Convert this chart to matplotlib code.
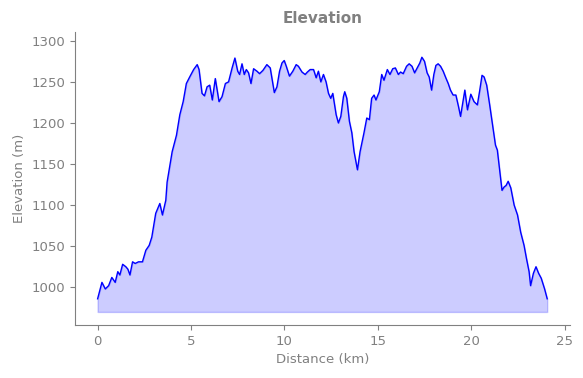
import numpy as np
import matplotlib
matplotlib.use('Agg')
import matplotlib.pyplot as plt

# distance (km) and elevation (m)
distance = [0.00, 0.23, 0.41, 0.59, 0.76, 0.94, 1.08, 1.19, 1.34, 1.51, 1.62, 1.73,
            1.87, 2.01, 2.19, 2.40, 2.58, 2.76, 2.90, 3.11, 3.33, 3.47, 3.65, 3.72,
            3.99, 4.22, 4.40, 4.58, 4.75, 4.93, 5.14, 5.33, 5.43, 5.59, 5.72, 5.86,
            6.00, 6.14, 6.30, 6.50, 6.66, 6.84, 7.01, 7.20, 7.35, 7.50, 7.60, 7.73,
            7.85, 7.96, 8.08, 8.21, 8.35, 8.53, 8.67, 8.85, 9.06, 9.24, 9.33, 9.46,
            9.60, 9.74, 9.87, 9.99, 10.10, 10.27, 10.45, 10.63, 10.75, 10.94, 11.11,
            11.23, 11.38, 11.56, 11.70, 11.82, 11.95, 12.09, 12.23, 12.36, 12.48,
            12.59, 12.77, 12.89, 13.02, 13.16, 13.23, 13.34, 13.48, 13.61, 13.73,
            13.91, 14.05, 14.26, 14.41, 14.55, 14.67, 14.80, 14.90, 15.08, 15.21,
            15.33, 15.51, 15.65, 15.80, 15.94, 16.10, 16.22, 16.36, 16.54, 16.68,
            16.83, 16.97, 17.11, 17.25, 17.36, 17.50, 17.64, 17.75, 17.88, 18.00,
            18.11, 18.23, 18.36, 18.50, 18.64, 18.77, 18.89, 19.03, 19.18, 19.32,
            19.43, 19.57, 19.66, 19.80, 19.98, 20.15, 20.33, 20.46, 20.58, 20.69,
            20.83, 20.99, 21.17, 21.30, 21.40, 21.51, 21.65, 21.76, 21.87, 21.98,
            22.12, 22.30, 22.48, 22.65, 22.83, 22.96, 23.10, 23.18, 23.33, 23.47,
            23.61, 23.75, 23.93, 24.07]
elevation = [986, 1006, 998, 1002, 1012, 1006, 1019, 1015, 1028, 1025, 1022, 1015,
             1031, 1029, 1031, 1031, 1045, 1051, 1061, 1090, 1102, 1088, 1106, 1128,
             1165, 1185, 1210, 1226, 1248, 1256, 1265, 1271, 1265, 1236, 1233, 1244,
             1246, 1228, 1254, 1226, 1232, 1248, 1250, 1267, 1279, 1263, 1259, 1272,
             1259, 1265, 1261, 1248, 1266, 1263, 1260, 1264, 1271, 1267, 1255, 1237,
             1244, 1263, 1273, 1276, 1269, 1257, 1263, 1271, 1269, 1262, 1259,
             1262, 1265, 1265, 1255, 1263, 1250, 1259, 1250, 1236, 1230,
             1236, 1210, 1200, 1208, 1232, 1238, 1230, 1202, 1188, 1165,
             1143, 1165, 1188, 1206, 1204, 1230, 1234, 1228, 1238, 1259,
             1252, 1265, 1259, 1266, 1267, 1259, 1262, 1260, 1269, 1272,
             1269, 1261, 1267, 1273, 1280, 1275, 1261, 1256, 1240, 1259,
             1270, 1272, 1269, 1263, 1255, 1248, 1240, 1234, 1234, 1220,
             1208, 1228, 1240, 1216, 1235, 1226, 1222, 1240, 1258, 1256,
             1246, 1222, 1193, 1173, 1167, 1145, 1118, 1122, 1124, 1129,
             1121, 1100, 1088, 1067, 1051, 1035, 1019, 1002, 1017, 1025,
             1017, 1011, 998, 986]
fill_base = 970

grey = '#808080'

fig = plt.figure(figsize=(5.83, 3.78), dpi=100)
ax = fig.add_axes([0.129, 0.14, 0.849, 0.776])

ax.fill_between(distance, elevation, fill_base, color='blue', alpha=0.2)
ax.plot(distance, elevation, color='blue', lw=1)

ax.set_xlim(-1.2, 25.3)
ax.set_ylim(954, 1311)
ax.set_xticks([0, 5, 10, 15, 20, 25])
ax.set_yticks([1000, 1050, 1100, 1150, 1200, 1250, 1300])

ax.set_title('Elevation', color=grey, fontsize=11, fontweight='bold')
ax.set_xlabel('Distance (km)', color=grey, fontsize=9.5)
ax.set_ylabel('Elevation (m)', color=grey, fontsize=9.5)

for side in ['top', 'right']:
    ax.spines[side].set_visible(False)
for side in ['left', 'bottom']:
    ax.spines[side].set_color(grey)
ax.tick_params(colors=grey, labelsize=9.5)

fig.savefig('out.png', dpi=100)
